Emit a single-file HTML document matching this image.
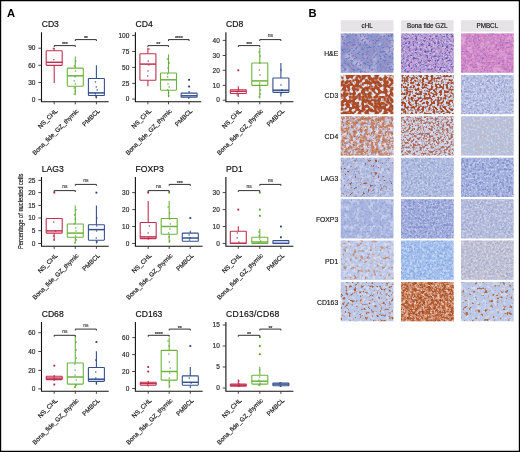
<!DOCTYPE html>
<html><head><meta charset="utf-8"><title>Figure</title>
<style>html,body{margin:0;padding:0;background:#fff;width:520px;height:452px;overflow:hidden}</style>
</head><body>
<svg width="520" height="452" viewBox="0 0 520 452" style="display:block;will-change:transform">
<rect x="0" y="0" width="520" height="452" fill="#fff"/>
<path d="M0 0H520V452H0Z M1.2 1.2V450.8H518.8V1.2Z" fill="#000" fill-rule="evenodd"/>
<text x="7.00" y="17.00" font-family='"Liberation Sans", sans-serif' font-size="11.2" font-weight="bold" fill="#000">A</text>
<text x="308.60" y="16.90" font-family='"Liberation Sans", sans-serif' font-size="11.2" font-weight="bold" fill="#000">B</text>
<text x="41.70" y="27.30" font-family='"Liberation Sans", sans-serif' font-size="8.6" fill="#111" stroke="#111" stroke-width="0.18">CD3</text>
<path d="M41.5 32.3V101.7H108.7" fill="none" stroke="#111" stroke-width="1.1"/>
<path d="M38.3 99.7H41.5" stroke="#333" stroke-width="0.9"/>
<text x="35.40" y="101.90" text-anchor="end" font-family='"Liberation Sans", sans-serif' font-size="6.5" fill="#2a2a2a" stroke="#2a2a2a" stroke-width="0.18">0</text>
<path d="M38.3 82.5H41.5" stroke="#333" stroke-width="0.9"/>
<text x="35.40" y="84.70" text-anchor="end" font-family='"Liberation Sans", sans-serif' font-size="6.5" fill="#2a2a2a" stroke="#2a2a2a" stroke-width="0.18">30</text>
<path d="M38.3 65.3H41.5" stroke="#333" stroke-width="0.9"/>
<text x="35.40" y="67.50" text-anchor="end" font-family='"Liberation Sans", sans-serif' font-size="6.5" fill="#2a2a2a" stroke="#2a2a2a" stroke-width="0.18">60</text>
<path d="M38.3 48.2H41.5" stroke="#333" stroke-width="0.9"/>
<text x="35.40" y="50.40" text-anchor="end" font-family='"Liberation Sans", sans-serif' font-size="6.5" fill="#2a2a2a" stroke="#2a2a2a" stroke-width="0.18">90</text>
<path d="M54.2 101.7V104.3" stroke="#333" stroke-width="0.9"/>
<path d="M75.3 101.7V104.3" stroke="#333" stroke-width="0.9"/>
<path d="M96.4 101.7V104.3" stroke="#333" stroke-width="0.9"/>
<text transform="translate(55.85,109.30) rotate(-45)" text-anchor="end" font-family='"Liberation Sans", sans-serif' font-size="6.3" fill="#1a1a1a" stroke="#1a1a1a" stroke-width="0.18" dy="3">NS_CHL</text>
<text transform="translate(76.95,109.30) rotate(-45)" text-anchor="end" font-family='"Liberation Sans", sans-serif' font-size="6.3" fill="#1a1a1a" stroke="#1a1a1a" stroke-width="0.18" dy="3">Bona_fide_GZ_thymic</text>
<text transform="translate(98.00,109.30) rotate(-45)" text-anchor="end" font-family='"Liberation Sans", sans-serif' font-size="6.3" fill="#1a1a1a" stroke="#1a1a1a" stroke-width="0.18" dy="3">PMBCL</text>
<g fill="none" stroke="#c2304f" stroke-width="1.1">
<path d="M54.2 47.7V50.8"/>
<path d="M54.2 65.4V82.9"/>
<rect x="46.2" y="50.8" width="16.0" height="14.6" rx="0.6"/>
<path d="M46.2 62.3H62.2" stroke-width="1.5"/>
</g>
<rect x="53.2" y="59.0" width="1.3" height="1.3" fill="#b01c3e" opacity="0.85"/>
<rect x="52.8" y="47.9" width="1.3" height="1.3" fill="#b01c3e" opacity="0.85"/>
<g fill="none" stroke="#6cb33e" stroke-width="1.1">
<path d="M75.3 56.4V68.1"/>
<path d="M75.3 86.2V95.0"/>
<rect x="67.3" y="68.1" width="16.0" height="18.1" rx="0.6"/>
<path d="M67.3 75.8H83.3" stroke-width="1.5"/>
</g>
<rect x="75.1" y="60.4" width="1.3" height="1.3" fill="#4f9a25" opacity="0.85"/>
<rect x="73.7" y="65.3" width="1.3" height="1.3" fill="#4f9a25" opacity="0.85"/>
<rect x="74.8" y="70.3" width="1.3" height="1.3" fill="#4f9a25" opacity="0.85"/>
<rect x="74.4" y="76.3" width="1.3" height="1.3" fill="#4f9a25" opacity="0.85"/>
<rect x="73.6" y="80.3" width="1.3" height="1.3" fill="#4f9a25" opacity="0.85"/>
<rect x="74.7" y="83.3" width="1.3" height="1.3" fill="#4f9a25" opacity="0.85"/>
<rect x="73.6" y="87.3" width="1.3" height="1.3" fill="#4f9a25" opacity="0.85"/>
<rect x="74.5" y="90.3" width="1.3" height="1.3" fill="#4f9a25" opacity="0.85"/>
<rect x="73.7" y="93.3" width="1.3" height="1.3" fill="#4f9a25" opacity="0.85"/>
<g fill="none" stroke="#34508e" stroke-width="1.1">
<path d="M96.4 65.2V78.5"/>
<path d="M96.4 95.5V98.6"/>
<rect x="88.4" y="78.5" width="16.0" height="17.0" rx="0.6"/>
<path d="M88.4 92.9H104.4" stroke-width="1.5"/>
</g>
<rect x="94.8" y="81.3" width="1.3" height="1.3" fill="#1f3a7a" opacity="0.85"/>
<rect x="95.6" y="86.3" width="1.3" height="1.3" fill="#1f3a7a" opacity="0.85"/>
<rect x="96.5" y="89.3" width="1.3" height="1.3" fill="#1f3a7a" opacity="0.85"/>
<rect x="94.8" y="93.3" width="1.3" height="1.3" fill="#1f3a7a" opacity="0.85"/>
<rect x="95.1" y="96.3" width="1.3" height="1.3" fill="#1f3a7a" opacity="0.85"/>
<path d="M54.2 47.0V45.6H75.3V47.0" fill="none" stroke="#1a1a1a" stroke-width="0.9"/>
<text x="64.80" y="46.20" text-anchor="middle" font-family='"Liberation Sans", sans-serif' font-size="5.5" fill="#333" stroke="#333" stroke-width="0.18" letter-spacing="-0.2">***</text>
<path d="M75.3 41.0V39.6H96.4V41.0" fill="none" stroke="#1a1a1a" stroke-width="0.9"/>
<text x="85.88" y="40.20" text-anchor="middle" font-family='"Liberation Sans", sans-serif' font-size="5.5" fill="#333" stroke="#333" stroke-width="0.18" letter-spacing="-0.2">**</text>
<text x="135.60" y="27.30" font-family='"Liberation Sans", sans-serif' font-size="8.6" fill="#111" stroke="#111" stroke-width="0.18">CD4</text>
<path d="M135.4 32.3V101.7H201.2" fill="none" stroke="#111" stroke-width="1.1"/>
<path d="M132.2 99.1H135.4" stroke="#333" stroke-width="0.9"/>
<text x="129.30" y="101.30" text-anchor="end" font-family='"Liberation Sans", sans-serif' font-size="6.5" fill="#2a2a2a" stroke="#2a2a2a" stroke-width="0.18">0</text>
<path d="M132.2 83.4H135.4" stroke="#333" stroke-width="0.9"/>
<text x="129.30" y="85.60" text-anchor="end" font-family='"Liberation Sans", sans-serif' font-size="6.5" fill="#2a2a2a" stroke="#2a2a2a" stroke-width="0.18">25</text>
<path d="M132.2 67.4H135.4" stroke="#333" stroke-width="0.9"/>
<text x="129.30" y="69.60" text-anchor="end" font-family='"Liberation Sans", sans-serif' font-size="6.5" fill="#2a2a2a" stroke="#2a2a2a" stroke-width="0.18">50</text>
<path d="M132.2 51.5H135.4" stroke="#333" stroke-width="0.9"/>
<text x="129.30" y="53.70" text-anchor="end" font-family='"Liberation Sans", sans-serif' font-size="6.5" fill="#2a2a2a" stroke="#2a2a2a" stroke-width="0.18">75</text>
<path d="M132.2 35.4H135.4" stroke="#333" stroke-width="0.9"/>
<text x="129.30" y="37.60" text-anchor="end" font-family='"Liberation Sans", sans-serif' font-size="6.5" fill="#2a2a2a" stroke="#2a2a2a" stroke-width="0.18">100</text>
<path d="M147.9 101.7V104.3" stroke="#333" stroke-width="0.9"/>
<path d="M168.5 101.7V104.3" stroke="#333" stroke-width="0.9"/>
<path d="M189.1 101.7V104.3" stroke="#333" stroke-width="0.9"/>
<text transform="translate(149.50,109.30) rotate(-45)" text-anchor="end" font-family='"Liberation Sans", sans-serif' font-size="6.3" fill="#1a1a1a" stroke="#1a1a1a" stroke-width="0.18" dy="3">NS_CHL</text>
<text transform="translate(170.10,109.30) rotate(-45)" text-anchor="end" font-family='"Liberation Sans", sans-serif' font-size="6.3" fill="#1a1a1a" stroke="#1a1a1a" stroke-width="0.18" dy="3">Bona_fide_GZ_thymic</text>
<text transform="translate(190.70,109.30) rotate(-45)" text-anchor="end" font-family='"Liberation Sans", sans-serif' font-size="6.3" fill="#1a1a1a" stroke="#1a1a1a" stroke-width="0.18" dy="3">PMBCL</text>
<g fill="none" stroke="#c2304f" stroke-width="1.1">
<path d="M147.9 47.7V53.7"/>
<path d="M147.9 80.3V86.2"/>
<rect x="139.9" y="53.7" width="16.0" height="26.6" rx="0.6"/>
<path d="M139.9 64.1H155.9" stroke-width="1.5"/>
</g>
<rect x="147.6" y="60.4" width="1.3" height="1.3" fill="#b01c3e" opacity="0.85"/>
<rect x="148.3" y="64.3" width="1.3" height="1.3" fill="#b01c3e" opacity="0.85"/>
<rect x="147.4" y="70.3" width="1.3" height="1.3" fill="#b01c3e" opacity="0.85"/>
<rect x="147.0" y="75.3" width="1.3" height="1.3" fill="#b01c3e" opacity="0.85"/>
<rect x="148.4" y="48.4" width="1.3" height="1.3" fill="#b01c3e" opacity="0.85"/>
<g fill="none" stroke="#6cb33e" stroke-width="1.1">
<path d="M168.5 54.4V73.0"/>
<path d="M168.5 90.2V97.3"/>
<rect x="160.5" y="73.0" width="16.0" height="17.2" rx="0.6"/>
<path d="M160.5 79.8H176.5" stroke-width="1.5"/>
</g>
<rect x="166.8" y="58.4" width="1.3" height="1.3" fill="#4f9a25" opacity="0.85"/>
<rect x="168.7" y="62.4" width="1.3" height="1.3" fill="#4f9a25" opacity="0.85"/>
<rect x="167.3" y="67.3" width="1.3" height="1.3" fill="#4f9a25" opacity="0.85"/>
<rect x="167.0" y="73.3" width="1.3" height="1.3" fill="#4f9a25" opacity="0.85"/>
<rect x="166.9" y="76.3" width="1.3" height="1.3" fill="#4f9a25" opacity="0.85"/>
<rect x="167.4" y="83.3" width="1.3" height="1.3" fill="#4f9a25" opacity="0.85"/>
<rect x="168.6" y="86.3" width="1.3" height="1.3" fill="#4f9a25" opacity="0.85"/>
<rect x="167.1" y="89.3" width="1.3" height="1.3" fill="#4f9a25" opacity="0.85"/>
<rect x="168.0" y="92.3" width="1.3" height="1.3" fill="#4f9a25" opacity="0.85"/>
<rect x="168.2" y="95.3" width="1.3" height="1.3" fill="#4f9a25" opacity="0.85"/>
<g fill="none" stroke="#34508e" stroke-width="1.1">
<path d="M189.1 91.0V93.1"/>
<path d="M189.1 97.3V98.0"/>
<rect x="181.1" y="93.1" width="16.0" height="4.2" rx="0.6"/>
<path d="M181.1 95.8H197.1" stroke-width="1.5"/>
</g>
<rect x="188.1" y="97.5" width="1.3" height="1.3" fill="#1f3a7a" opacity="0.85"/>
<rect x="188.2" y="78.9" width="1.8" height="1.8" fill="#1f3a7a"/>
<rect x="188.2" y="85.6" width="1.8" height="1.8" fill="#1f3a7a"/>
<path d="M147.9 47.0V45.6H168.5V47.0" fill="none" stroke="#1a1a1a" stroke-width="0.9"/>
<text x="158.20" y="46.20" text-anchor="middle" font-family='"Liberation Sans", sans-serif' font-size="5.5" fill="#333" stroke="#333" stroke-width="0.18" letter-spacing="-0.2">**</text>
<path d="M168.5 41.0V39.6H189.1V41.0" fill="none" stroke="#1a1a1a" stroke-width="0.9"/>
<text x="178.80" y="40.20" text-anchor="middle" font-family='"Liberation Sans", sans-serif' font-size="5.5" fill="#333" stroke="#333" stroke-width="0.18" letter-spacing="-0.2">****</text>
<text x="226.10" y="27.30" font-family='"Liberation Sans", sans-serif' font-size="8.6" fill="#111" stroke="#111" stroke-width="0.18">CD8</text>
<path d="M225.9 32.3V101.7H293.4" fill="none" stroke="#111" stroke-width="1.1"/>
<path d="M222.7 100.2H225.9" stroke="#333" stroke-width="0.9"/>
<text x="219.80" y="102.40" text-anchor="end" font-family='"Liberation Sans", sans-serif' font-size="6.5" fill="#2a2a2a" stroke="#2a2a2a" stroke-width="0.18">0</text>
<path d="M222.7 85.4H225.9" stroke="#333" stroke-width="0.9"/>
<text x="219.80" y="87.60" text-anchor="end" font-family='"Liberation Sans", sans-serif' font-size="6.5" fill="#2a2a2a" stroke="#2a2a2a" stroke-width="0.18">10</text>
<path d="M222.7 70.3H225.9" stroke="#333" stroke-width="0.9"/>
<text x="219.80" y="72.50" text-anchor="end" font-family='"Liberation Sans", sans-serif' font-size="6.5" fill="#2a2a2a" stroke="#2a2a2a" stroke-width="0.18">20</text>
<path d="M222.7 55.5H225.9" stroke="#333" stroke-width="0.9"/>
<text x="219.80" y="57.70" text-anchor="end" font-family='"Liberation Sans", sans-serif' font-size="6.5" fill="#2a2a2a" stroke="#2a2a2a" stroke-width="0.18">30</text>
<path d="M222.7 40.4H225.9" stroke="#333" stroke-width="0.9"/>
<text x="219.80" y="42.60" text-anchor="end" font-family='"Liberation Sans", sans-serif' font-size="6.5" fill="#2a2a2a" stroke="#2a2a2a" stroke-width="0.18">40</text>
<path d="M238.3 101.7V104.3" stroke="#333" stroke-width="0.9"/>
<path d="M259.8 101.7V104.3" stroke="#333" stroke-width="0.9"/>
<path d="M280.9 101.7V104.3" stroke="#333" stroke-width="0.9"/>
<text transform="translate(239.90,109.30) rotate(-45)" text-anchor="end" font-family='"Liberation Sans", sans-serif' font-size="6.3" fill="#1a1a1a" stroke="#1a1a1a" stroke-width="0.18" dy="3">NS_CHL</text>
<text transform="translate(261.40,109.30) rotate(-45)" text-anchor="end" font-family='"Liberation Sans", sans-serif' font-size="6.3" fill="#1a1a1a" stroke="#1a1a1a" stroke-width="0.18" dy="3">Bona_fide_GZ_thymic</text>
<text transform="translate(282.50,109.30) rotate(-45)" text-anchor="end" font-family='"Liberation Sans", sans-serif' font-size="6.3" fill="#1a1a1a" stroke="#1a1a1a" stroke-width="0.18" dy="3">PMBCL</text>
<g fill="none" stroke="#c2304f" stroke-width="1.1">
<path d="M238.3 86.2V89.8"/>
<path d="M238.3 93.5V96.9"/>
<rect x="230.3" y="89.8" width="16.0" height="3.7" rx="0.6"/>
<path d="M230.3 91.3H246.3" stroke-width="1.5"/>
</g>
<rect x="237.8" y="89.3" width="1.3" height="1.3" fill="#b01c3e" opacity="0.85"/>
<rect x="236.6" y="91.3" width="1.3" height="1.3" fill="#b01c3e" opacity="0.85"/>
<rect x="236.6" y="94.3" width="1.3" height="1.3" fill="#b01c3e" opacity="0.85"/>
<rect x="237.4" y="69.4" width="1.8" height="1.8" fill="#b01c3e"/>
<g fill="none" stroke="#6cb33e" stroke-width="1.1">
<path d="M259.8 47.7V63.0"/>
<path d="M259.8 85.4V98.6"/>
<rect x="251.8" y="63.0" width="16.0" height="22.4" rx="0.6"/>
<path d="M251.8 80.9H267.8" stroke-width="1.5"/>
</g>
<rect x="258.4" y="51.4" width="1.3" height="1.3" fill="#4f9a25" opacity="0.85"/>
<rect x="259.6" y="55.4" width="1.3" height="1.3" fill="#4f9a25" opacity="0.85"/>
<rect x="259.0" y="62.4" width="1.3" height="1.3" fill="#4f9a25" opacity="0.85"/>
<rect x="258.7" y="69.3" width="1.3" height="1.3" fill="#4f9a25" opacity="0.85"/>
<rect x="259.4" y="74.3" width="1.3" height="1.3" fill="#4f9a25" opacity="0.85"/>
<rect x="259.0" y="82.3" width="1.3" height="1.3" fill="#4f9a25" opacity="0.85"/>
<rect x="258.7" y="84.3" width="1.3" height="1.3" fill="#4f9a25" opacity="0.85"/>
<rect x="259.9" y="89.3" width="1.3" height="1.3" fill="#4f9a25" opacity="0.85"/>
<rect x="259.6" y="93.3" width="1.3" height="1.3" fill="#4f9a25" opacity="0.85"/>
<rect x="258.5" y="96.3" width="1.3" height="1.3" fill="#4f9a25" opacity="0.85"/>
<g fill="none" stroke="#34508e" stroke-width="1.1">
<path d="M280.9 63.0V78.0"/>
<path d="M280.9 92.4V96.4"/>
<rect x="272.9" y="78.0" width="16.0" height="14.4" rx="0.6"/>
<path d="M272.9 90.2H288.9" stroke-width="1.5"/>
</g>
<rect x="280.4" y="69.3" width="1.3" height="1.3" fill="#1f3a7a" opacity="0.85"/>
<rect x="280.3" y="84.3" width="1.3" height="1.3" fill="#1f3a7a" opacity="0.85"/>
<rect x="281.2" y="89.3" width="1.3" height="1.3" fill="#1f3a7a" opacity="0.85"/>
<rect x="280.8" y="92.3" width="1.3" height="1.3" fill="#1f3a7a" opacity="0.85"/>
<path d="M238.3 47.0V45.6H259.8V47.0" fill="none" stroke="#1a1a1a" stroke-width="0.9"/>
<text x="249.05" y="46.20" text-anchor="middle" font-family='"Liberation Sans", sans-serif' font-size="5.5" fill="#333" stroke="#333" stroke-width="0.18" letter-spacing="-0.2">***</text>
<path d="M259.8 41.0V39.6H280.9V41.0" fill="none" stroke="#1a1a1a" stroke-width="0.9"/>
<text x="270.35" y="37.40" text-anchor="middle" font-family='"Liberation Sans", sans-serif' font-size="5" fill="#444" stroke="#444" stroke-width="0.18">ns</text>
<text x="41.70" y="172.20" font-family='"Liberation Sans", sans-serif' font-size="8.6" fill="#111" stroke="#111" stroke-width="0.18">LAG3</text>
<path d="M41.5 177.1V246.3H108.7" fill="none" stroke="#111" stroke-width="1.1"/>
<path d="M38.3 243.5H41.5" stroke="#333" stroke-width="0.9"/>
<text x="35.40" y="245.70" text-anchor="end" font-family='"Liberation Sans", sans-serif' font-size="6.5" fill="#2a2a2a" stroke="#2a2a2a" stroke-width="0.18">0</text>
<path d="M38.3 230.7H41.5" stroke="#333" stroke-width="0.9"/>
<text x="35.40" y="232.90" text-anchor="end" font-family='"Liberation Sans", sans-serif' font-size="6.5" fill="#2a2a2a" stroke="#2a2a2a" stroke-width="0.18">5</text>
<path d="M38.3 218.0H41.5" stroke="#333" stroke-width="0.9"/>
<text x="35.40" y="220.20" text-anchor="end" font-family='"Liberation Sans", sans-serif' font-size="6.5" fill="#2a2a2a" stroke="#2a2a2a" stroke-width="0.18">10</text>
<path d="M38.3 205.4H41.5" stroke="#333" stroke-width="0.9"/>
<text x="35.40" y="207.60" text-anchor="end" font-family='"Liberation Sans", sans-serif' font-size="6.5" fill="#2a2a2a" stroke="#2a2a2a" stroke-width="0.18">15</text>
<path d="M38.3 192.6H41.5" stroke="#333" stroke-width="0.9"/>
<text x="35.40" y="194.80" text-anchor="end" font-family='"Liberation Sans", sans-serif' font-size="6.5" fill="#2a2a2a" stroke="#2a2a2a" stroke-width="0.18">20</text>
<path d="M38.3 180.4H41.5" stroke="#333" stroke-width="0.9"/>
<text x="35.40" y="182.60" text-anchor="end" font-family='"Liberation Sans", sans-serif' font-size="6.5" fill="#2a2a2a" stroke="#2a2a2a" stroke-width="0.18">25</text>
<path d="M54.2 246.3V248.9" stroke="#333" stroke-width="0.9"/>
<path d="M75.3 246.3V248.9" stroke="#333" stroke-width="0.9"/>
<path d="M96.4 246.3V248.9" stroke="#333" stroke-width="0.9"/>
<text transform="translate(55.85,253.90) rotate(-45)" text-anchor="end" font-family='"Liberation Sans", sans-serif' font-size="6.3" fill="#1a1a1a" stroke="#1a1a1a" stroke-width="0.18" dy="3">NS_CHL</text>
<text transform="translate(76.95,253.90) rotate(-45)" text-anchor="end" font-family='"Liberation Sans", sans-serif' font-size="6.3" fill="#1a1a1a" stroke="#1a1a1a" stroke-width="0.18" dy="3">Bona_fide_GZ_thymic</text>
<text transform="translate(98.00,253.90) rotate(-45)" text-anchor="end" font-family='"Liberation Sans", sans-serif' font-size="6.3" fill="#1a1a1a" stroke="#1a1a1a" stroke-width="0.18" dy="3">PMBCL</text>
<g fill="none" stroke="#c2304f" stroke-width="1.1">
<path d="M54.2 233.1V240.8"/>
<rect x="46.2" y="218.5" width="16.0" height="14.6" rx="0.6"/>
<path d="M46.2 230.9H62.2" stroke-width="1.5"/>
</g>
<rect x="53.1" y="221.3" width="1.3" height="1.3" fill="#b01c3e" opacity="0.85"/>
<rect x="54.8" y="230.3" width="1.3" height="1.3" fill="#b01c3e" opacity="0.85"/>
<rect x="52.7" y="235.3" width="1.3" height="1.3" fill="#b01c3e" opacity="0.85"/>
<rect x="53.4" y="239.3" width="1.3" height="1.3" fill="#b01c3e" opacity="0.85"/>
<rect x="53.4" y="191.7" width="1.8" height="1.8" fill="#b01c3e"/>
<g fill="none" stroke="#6cb33e" stroke-width="1.1">
<path d="M75.3 205.4V224.0"/>
<path d="M75.3 237.3V243.5"/>
<rect x="67.3" y="224.0" width="16.0" height="13.3" rx="0.6"/>
<path d="M67.3 233.1H83.3" stroke-width="1.5"/>
</g>
<rect x="75.3" y="209.3" width="1.3" height="1.3" fill="#4f9a25" opacity="0.85"/>
<rect x="73.9" y="214.3" width="1.3" height="1.3" fill="#4f9a25" opacity="0.85"/>
<rect x="74.7" y="218.3" width="1.3" height="1.3" fill="#4f9a25" opacity="0.85"/>
<rect x="73.6" y="223.3" width="1.3" height="1.3" fill="#4f9a25" opacity="0.85"/>
<rect x="75.1" y="227.3" width="1.3" height="1.3" fill="#4f9a25" opacity="0.85"/>
<rect x="75.3" y="230.3" width="1.3" height="1.3" fill="#4f9a25" opacity="0.85"/>
<rect x="74.9" y="235.3" width="1.3" height="1.3" fill="#4f9a25" opacity="0.85"/>
<rect x="75.6" y="239.3" width="1.3" height="1.3" fill="#4f9a25" opacity="0.85"/>
<rect x="74.3" y="242.3" width="1.3" height="1.3" fill="#4f9a25" opacity="0.85"/>
<g fill="none" stroke="#34508e" stroke-width="1.1">
<path d="M96.4 205.4V224.7"/>
<path d="M96.4 240.2V243.5"/>
<rect x="88.4" y="224.7" width="16.0" height="15.5" rx="0.6"/>
<path d="M88.4 229.6H104.4" stroke-width="1.5"/>
</g>
<rect x="96.2" y="217.3" width="1.3" height="1.3" fill="#1f3a7a" opacity="0.85"/>
<rect x="96.0" y="225.3" width="1.3" height="1.3" fill="#1f3a7a" opacity="0.85"/>
<rect x="95.9" y="230.3" width="1.3" height="1.3" fill="#1f3a7a" opacity="0.85"/>
<rect x="95.6" y="237.3" width="1.3" height="1.3" fill="#1f3a7a" opacity="0.85"/>
<rect x="96.6" y="241.3" width="1.3" height="1.3" fill="#1f3a7a" opacity="0.85"/>
<rect x="95.5" y="191.7" width="1.8" height="1.8" fill="#1f3a7a"/>
<path d="M54.2 192.0V190.6H75.3V192.0" fill="none" stroke="#1a1a1a" stroke-width="0.9"/>
<text x="64.80" y="188.40" text-anchor="middle" font-family='"Liberation Sans", sans-serif' font-size="5" fill="#444" stroke="#444" stroke-width="0.18">ns</text>
<path d="M75.3 185.8V184.4H96.4V185.8" fill="none" stroke="#1a1a1a" stroke-width="0.9"/>
<text x="85.88" y="182.20" text-anchor="middle" font-family='"Liberation Sans", sans-serif' font-size="5" fill="#444" stroke="#444" stroke-width="0.18">ns</text>
<text x="135.60" y="172.20" font-family='"Liberation Sans", sans-serif' font-size="8.6" fill="#111" stroke="#111" stroke-width="0.18">FOXP3</text>
<path d="M135.4 177.1V246.3H202.6" fill="none" stroke="#111" stroke-width="1.1"/>
<path d="M132.2 243.5H135.4" stroke="#333" stroke-width="0.9"/>
<text x="129.30" y="245.70" text-anchor="end" font-family='"Liberation Sans", sans-serif' font-size="6.5" fill="#2a2a2a" stroke="#2a2a2a" stroke-width="0.18">0</text>
<path d="M132.2 226.5H135.4" stroke="#333" stroke-width="0.9"/>
<text x="129.30" y="228.70" text-anchor="end" font-family='"Liberation Sans", sans-serif' font-size="6.5" fill="#2a2a2a" stroke="#2a2a2a" stroke-width="0.18">10</text>
<path d="M132.2 209.6H135.4" stroke="#333" stroke-width="0.9"/>
<text x="129.30" y="211.80" text-anchor="end" font-family='"Liberation Sans", sans-serif' font-size="6.5" fill="#2a2a2a" stroke="#2a2a2a" stroke-width="0.18">20</text>
<path d="M132.2 192.6H135.4" stroke="#333" stroke-width="0.9"/>
<text x="129.30" y="194.80" text-anchor="end" font-family='"Liberation Sans", sans-serif' font-size="6.5" fill="#2a2a2a" stroke="#2a2a2a" stroke-width="0.18">30</text>
<path d="M148.2 246.3V248.9" stroke="#333" stroke-width="0.9"/>
<path d="M169.2 246.3V248.9" stroke="#333" stroke-width="0.9"/>
<path d="M190.3 246.3V248.9" stroke="#333" stroke-width="0.9"/>
<text transform="translate(149.80,253.90) rotate(-45)" text-anchor="end" font-family='"Liberation Sans", sans-serif' font-size="6.3" fill="#1a1a1a" stroke="#1a1a1a" stroke-width="0.18" dy="3">NS_CHL</text>
<text transform="translate(170.80,253.90) rotate(-45)" text-anchor="end" font-family='"Liberation Sans", sans-serif' font-size="6.3" fill="#1a1a1a" stroke="#1a1a1a" stroke-width="0.18" dy="3">Bona_fide_GZ_thymic</text>
<text transform="translate(191.90,253.90) rotate(-45)" text-anchor="end" font-family='"Liberation Sans", sans-serif' font-size="6.3" fill="#1a1a1a" stroke="#1a1a1a" stroke-width="0.18" dy="3">PMBCL</text>
<g fill="none" stroke="#c2304f" stroke-width="1.1">
<path d="M148.2 201.0V222.5"/>
<path d="M148.2 238.6V239.7"/>
<rect x="140.2" y="222.5" width="16.0" height="16.1" rx="0.6"/>
<path d="M140.2 236.9H156.2" stroke-width="1.5"/>
</g>
<rect x="148.6" y="225.3" width="1.3" height="1.3" fill="#b01c3e" opacity="0.85"/>
<rect x="147.5" y="232.3" width="1.3" height="1.3" fill="#b01c3e" opacity="0.85"/>
<rect x="147.9" y="237.3" width="1.3" height="1.3" fill="#b01c3e" opacity="0.85"/>
<rect x="147.3" y="191.7" width="1.8" height="1.8" fill="#b01c3e"/>
<g fill="none" stroke="#6cb33e" stroke-width="1.1">
<path d="M169.2 201.0V218.5"/>
<path d="M169.2 234.2V243.0"/>
<rect x="161.2" y="218.5" width="16.0" height="15.7" rx="0.6"/>
<path d="M161.2 226.5H177.2" stroke-width="1.5"/>
</g>
<rect x="167.5" y="206.3" width="1.3" height="1.3" fill="#4f9a25" opacity="0.85"/>
<rect x="169.0" y="212.3" width="1.3" height="1.3" fill="#4f9a25" opacity="0.85"/>
<rect x="168.9" y="218.3" width="1.3" height="1.3" fill="#4f9a25" opacity="0.85"/>
<rect x="169.7" y="223.3" width="1.3" height="1.3" fill="#4f9a25" opacity="0.85"/>
<rect x="169.3" y="228.3" width="1.3" height="1.3" fill="#4f9a25" opacity="0.85"/>
<rect x="168.0" y="232.3" width="1.3" height="1.3" fill="#4f9a25" opacity="0.85"/>
<rect x="168.3" y="236.3" width="1.3" height="1.3" fill="#4f9a25" opacity="0.85"/>
<rect x="169.0" y="240.3" width="1.3" height="1.3" fill="#4f9a25" opacity="0.85"/>
<rect x="168.3" y="191.7" width="1.8" height="1.8" fill="#4f9a25"/>
<g fill="none" stroke="#34508e" stroke-width="1.1">
<path d="M190.3 230.7V233.1"/>
<rect x="182.3" y="233.1" width="16.0" height="8.2" rx="0.6"/>
<path d="M182.3 238.0H198.3" stroke-width="1.5"/>
</g>
<rect x="188.5" y="234.3" width="1.3" height="1.3" fill="#1f3a7a" opacity="0.85"/>
<rect x="189.6" y="237.3" width="1.3" height="1.3" fill="#1f3a7a" opacity="0.85"/>
<rect x="188.9" y="239.3" width="1.3" height="1.3" fill="#1f3a7a" opacity="0.85"/>
<rect x="189.4" y="217.1" width="1.8" height="1.8" fill="#1f3a7a"/>
<path d="M148.2 192.0V190.6H169.2V192.0" fill="none" stroke="#1a1a1a" stroke-width="0.9"/>
<text x="158.70" y="188.40" text-anchor="middle" font-family='"Liberation Sans", sans-serif' font-size="5" fill="#444" stroke="#444" stroke-width="0.18">ns</text>
<path d="M169.2 185.8V184.4H190.3V185.8" fill="none" stroke="#1a1a1a" stroke-width="0.9"/>
<text x="179.75" y="185.00" text-anchor="middle" font-family='"Liberation Sans", sans-serif' font-size="5.5" fill="#333" stroke="#333" stroke-width="0.18" letter-spacing="-0.2">***</text>
<text x="226.10" y="172.20" font-family='"Liberation Sans", sans-serif' font-size="8.6" fill="#111" stroke="#111" stroke-width="0.18">PD1</text>
<path d="M225.9 177.1V246.3H293.4" fill="none" stroke="#111" stroke-width="1.1"/>
<path d="M222.7 243.5H225.9" stroke="#333" stroke-width="0.9"/>
<text x="219.80" y="245.70" text-anchor="end" font-family='"Liberation Sans", sans-serif' font-size="6.5" fill="#2a2a2a" stroke="#2a2a2a" stroke-width="0.18">0</text>
<path d="M222.7 226.5H225.9" stroke="#333" stroke-width="0.9"/>
<text x="219.80" y="228.70" text-anchor="end" font-family='"Liberation Sans", sans-serif' font-size="6.5" fill="#2a2a2a" stroke="#2a2a2a" stroke-width="0.18">10</text>
<path d="M222.7 209.6H225.9" stroke="#333" stroke-width="0.9"/>
<text x="219.80" y="211.80" text-anchor="end" font-family='"Liberation Sans", sans-serif' font-size="6.5" fill="#2a2a2a" stroke="#2a2a2a" stroke-width="0.18">20</text>
<path d="M222.7 192.6H225.9" stroke="#333" stroke-width="0.9"/>
<text x="219.80" y="194.80" text-anchor="end" font-family='"Liberation Sans", sans-serif' font-size="6.5" fill="#2a2a2a" stroke="#2a2a2a" stroke-width="0.18">30</text>
<path d="M238.3 246.3V248.9" stroke="#333" stroke-width="0.9"/>
<path d="M259.8 246.3V248.9" stroke="#333" stroke-width="0.9"/>
<path d="M280.9 246.3V248.9" stroke="#333" stroke-width="0.9"/>
<text transform="translate(239.90,253.90) rotate(-45)" text-anchor="end" font-family='"Liberation Sans", sans-serif' font-size="6.3" fill="#1a1a1a" stroke="#1a1a1a" stroke-width="0.18" dy="3">NS_CHL</text>
<text transform="translate(261.40,253.90) rotate(-45)" text-anchor="end" font-family='"Liberation Sans", sans-serif' font-size="6.3" fill="#1a1a1a" stroke="#1a1a1a" stroke-width="0.18" dy="3">Bona_fide_GZ_thymic</text>
<text transform="translate(282.50,253.90) rotate(-45)" text-anchor="end" font-family='"Liberation Sans", sans-serif' font-size="6.3" fill="#1a1a1a" stroke="#1a1a1a" stroke-width="0.18" dy="3">PMBCL</text>
<g fill="none" stroke="#c2304f" stroke-width="1.1">
<path d="M238.3 226.2V231.3"/>
<rect x="230.3" y="231.3" width="16.0" height="12.2" rx="0.6"/>
<path d="M230.3 243.2H246.3" stroke-width="1.5"/>
</g>
<rect x="236.7" y="232.3" width="1.3" height="1.3" fill="#b01c3e" opacity="0.85"/>
<rect x="236.6" y="237.3" width="1.3" height="1.3" fill="#b01c3e" opacity="0.85"/>
<rect x="238.3" y="241.3" width="1.3" height="1.3" fill="#b01c3e" opacity="0.85"/>
<rect x="237.4" y="208.7" width="1.8" height="1.8" fill="#b01c3e"/>
<g fill="none" stroke="#6cb33e" stroke-width="1.1">
<path d="M259.8 228.7V237.3"/>
<rect x="251.8" y="237.3" width="16.0" height="6.2" rx="0.6"/>
<path d="M251.8 242.0H267.8" stroke-width="1.5"/>
</g>
<rect x="258.3" y="231.3" width="1.3" height="1.3" fill="#4f9a25" opacity="0.85"/>
<rect x="258.5" y="235.3" width="1.3" height="1.3" fill="#4f9a25" opacity="0.85"/>
<rect x="258.9" y="238.3" width="1.3" height="1.3" fill="#4f9a25" opacity="0.85"/>
<rect x="260.0" y="240.3" width="1.3" height="1.3" fill="#4f9a25" opacity="0.85"/>
<rect x="258.1" y="242.3" width="1.3" height="1.3" fill="#4f9a25" opacity="0.85"/>
<rect x="258.9" y="191.7" width="1.8" height="1.8" fill="#4f9a25"/>
<rect x="258.9" y="208.7" width="1.8" height="1.8" fill="#4f9a25"/>
<rect x="258.9" y="214.9" width="1.8" height="1.8" fill="#4f9a25"/>
<g fill="none" stroke="#34508e" stroke-width="1.1">
<rect x="272.9" y="240.6" width="16.0" height="2.9" rx="0.6"/>
<path d="M272.9 243.3H288.9" stroke-width="1.5"/>
</g>
<rect x="280.0" y="225.6" width="1.8" height="1.8" fill="#1f3a7a"/>
<rect x="280.0" y="236.4" width="1.8" height="1.8" fill="#1f3a7a"/>
<path d="M238.3 192.0V190.6H259.8V192.0" fill="none" stroke="#1a1a1a" stroke-width="0.9"/>
<text x="249.05" y="188.40" text-anchor="middle" font-family='"Liberation Sans", sans-serif' font-size="5" fill="#444" stroke="#444" stroke-width="0.18">ns</text>
<path d="M259.8 185.8V184.4H280.9V185.8" fill="none" stroke="#1a1a1a" stroke-width="0.9"/>
<text x="270.35" y="182.20" text-anchor="middle" font-family='"Liberation Sans", sans-serif' font-size="5" fill="#444" stroke="#444" stroke-width="0.18">ns</text>
<text x="41.70" y="317.00" font-family='"Liberation Sans", sans-serif' font-size="8.6" fill="#111" stroke="#111" stroke-width="0.18">CD68</text>
<path d="M41.5 322.1V391.2H108.7" fill="none" stroke="#111" stroke-width="1.1"/>
<path d="M38.3 388.9H41.5" stroke="#333" stroke-width="0.9"/>
<text x="35.40" y="391.10" text-anchor="end" font-family='"Liberation Sans", sans-serif' font-size="6.5" fill="#2a2a2a" stroke="#2a2a2a" stroke-width="0.18">0</text>
<path d="M38.3 370.4H41.5" stroke="#333" stroke-width="0.9"/>
<text x="35.40" y="372.60" text-anchor="end" font-family='"Liberation Sans", sans-serif' font-size="6.5" fill="#2a2a2a" stroke="#2a2a2a" stroke-width="0.18">20</text>
<path d="M38.3 351.5H41.5" stroke="#333" stroke-width="0.9"/>
<text x="35.40" y="353.70" text-anchor="end" font-family='"Liberation Sans", sans-serif' font-size="6.5" fill="#2a2a2a" stroke="#2a2a2a" stroke-width="0.18">40</text>
<path d="M38.3 332.7H41.5" stroke="#333" stroke-width="0.9"/>
<text x="35.40" y="334.90" text-anchor="end" font-family='"Liberation Sans", sans-serif' font-size="6.5" fill="#2a2a2a" stroke="#2a2a2a" stroke-width="0.18">60</text>
<path d="M54.2 391.2V393.8" stroke="#333" stroke-width="0.9"/>
<path d="M75.3 391.2V393.8" stroke="#333" stroke-width="0.9"/>
<path d="M96.4 391.2V393.8" stroke="#333" stroke-width="0.9"/>
<text transform="translate(55.85,398.80) rotate(-45)" text-anchor="end" font-family='"Liberation Sans", sans-serif' font-size="6.3" fill="#1a1a1a" stroke="#1a1a1a" stroke-width="0.18" dy="3">NS_CHL</text>
<text transform="translate(76.95,398.80) rotate(-45)" text-anchor="end" font-family='"Liberation Sans", sans-serif' font-size="6.3" fill="#1a1a1a" stroke="#1a1a1a" stroke-width="0.18" dy="3">Bona_fide_GZ_thymic</text>
<text transform="translate(98.00,398.80) rotate(-45)" text-anchor="end" font-family='"Liberation Sans", sans-serif' font-size="6.3" fill="#1a1a1a" stroke="#1a1a1a" stroke-width="0.18" dy="3">PMBCL</text>
<g fill="none" stroke="#c2304f" stroke-width="1.1">
<path d="M54.2 375.0V376.3"/>
<path d="M54.2 379.6V381.0"/>
<rect x="46.2" y="376.3" width="16.0" height="3.3" rx="0.6"/>
<path d="M46.2 378.1H62.2" stroke-width="1.5"/>
</g>
<rect x="53.5" y="376.4" width="1.3" height="1.3" fill="#b01c3e" opacity="0.85"/>
<rect x="53.7" y="378.4" width="1.3" height="1.3" fill="#b01c3e" opacity="0.85"/>
<rect x="53.4" y="364.8" width="1.8" height="1.8" fill="#b01c3e"/>
<rect x="53.4" y="383.6" width="1.8" height="1.8" fill="#b01c3e"/>
<g fill="none" stroke="#6cb33e" stroke-width="1.1">
<path d="M75.3 335.4V363.0"/>
<path d="M75.3 384.1V388.0"/>
<rect x="67.3" y="363.0" width="16.0" height="21.1" rx="0.6"/>
<path d="M67.3 377.0H83.3" stroke-width="1.5"/>
</g>
<rect x="75.6" y="341.4" width="1.3" height="1.3" fill="#4f9a25" opacity="0.85"/>
<rect x="75.5" y="349.4" width="1.3" height="1.3" fill="#4f9a25" opacity="0.85"/>
<rect x="75.6" y="357.4" width="1.3" height="1.3" fill="#4f9a25" opacity="0.85"/>
<rect x="74.2" y="363.4" width="1.3" height="1.3" fill="#4f9a25" opacity="0.85"/>
<rect x="74.5" y="369.4" width="1.3" height="1.3" fill="#4f9a25" opacity="0.85"/>
<rect x="74.4" y="374.4" width="1.3" height="1.3" fill="#4f9a25" opacity="0.85"/>
<rect x="75.6" y="379.4" width="1.3" height="1.3" fill="#4f9a25" opacity="0.85"/>
<rect x="75.8" y="384.4" width="1.3" height="1.3" fill="#4f9a25" opacity="0.85"/>
<rect x="73.9" y="386.4" width="1.3" height="1.3" fill="#4f9a25" opacity="0.85"/>
<g fill="none" stroke="#34508e" stroke-width="1.1">
<path d="M96.4 351.3V367.5"/>
<path d="M96.4 381.4V384.7"/>
<rect x="88.4" y="367.5" width="16.0" height="13.9" rx="0.6"/>
<path d="M88.4 379.2H104.4" stroke-width="1.5"/>
</g>
<rect x="95.0" y="359.4" width="1.3" height="1.3" fill="#1f3a7a" opacity="0.85"/>
<rect x="95.1" y="371.4" width="1.3" height="1.3" fill="#1f3a7a" opacity="0.85"/>
<rect x="95.1" y="377.4" width="1.3" height="1.3" fill="#1f3a7a" opacity="0.85"/>
<rect x="95.7" y="382.4" width="1.3" height="1.3" fill="#1f3a7a" opacity="0.85"/>
<rect x="95.5" y="341.1" width="1.8" height="1.8" fill="#1f3a7a"/>
<path d="M54.2 336.7V335.3H75.3V336.7" fill="none" stroke="#1a1a1a" stroke-width="0.9"/>
<text x="64.80" y="333.10" text-anchor="middle" font-family='"Liberation Sans", sans-serif' font-size="5" fill="#444" stroke="#444" stroke-width="0.18">ns</text>
<path d="M75.3 330.5V329.1H96.4V330.5" fill="none" stroke="#1a1a1a" stroke-width="0.9"/>
<text x="85.88" y="326.90" text-anchor="middle" font-family='"Liberation Sans", sans-serif' font-size="5" fill="#444" stroke="#444" stroke-width="0.18">ns</text>
<text x="135.60" y="317.00" font-family='"Liberation Sans", sans-serif' font-size="8.6" fill="#111" stroke="#111" stroke-width="0.18">CD163</text>
<path d="M135.4 322.1V391.2H202.6" fill="none" stroke="#111" stroke-width="1.1"/>
<path d="M132.2 388.5H135.4" stroke="#333" stroke-width="0.9"/>
<text x="129.30" y="390.70" text-anchor="end" font-family='"Liberation Sans", sans-serif' font-size="6.5" fill="#2a2a2a" stroke="#2a2a2a" stroke-width="0.18">0</text>
<path d="M132.2 371.5H135.4" stroke="#333" stroke-width="0.9"/>
<text x="129.30" y="373.70" text-anchor="end" font-family='"Liberation Sans", sans-serif' font-size="6.5" fill="#2a2a2a" stroke="#2a2a2a" stroke-width="0.18">20</text>
<path d="M132.2 354.6H135.4" stroke="#333" stroke-width="0.9"/>
<text x="129.30" y="356.80" text-anchor="end" font-family='"Liberation Sans", sans-serif' font-size="6.5" fill="#2a2a2a" stroke="#2a2a2a" stroke-width="0.18">40</text>
<path d="M132.2 337.6H135.4" stroke="#333" stroke-width="0.9"/>
<text x="129.30" y="339.80" text-anchor="end" font-family='"Liberation Sans", sans-serif' font-size="6.5" fill="#2a2a2a" stroke="#2a2a2a" stroke-width="0.18">60</text>
<path d="M148.2 391.2V393.8" stroke="#333" stroke-width="0.9"/>
<path d="M169.2 391.2V393.8" stroke="#333" stroke-width="0.9"/>
<path d="M190.3 391.2V393.8" stroke="#333" stroke-width="0.9"/>
<text transform="translate(149.80,398.80) rotate(-45)" text-anchor="end" font-family='"Liberation Sans", sans-serif' font-size="6.3" fill="#1a1a1a" stroke="#1a1a1a" stroke-width="0.18" dy="3">NS_CHL</text>
<text transform="translate(170.80,398.80) rotate(-45)" text-anchor="end" font-family='"Liberation Sans", sans-serif' font-size="6.3" fill="#1a1a1a" stroke="#1a1a1a" stroke-width="0.18" dy="3">Bona_fide_GZ_thymic</text>
<text transform="translate(191.90,398.80) rotate(-45)" text-anchor="end" font-family='"Liberation Sans", sans-serif' font-size="6.3" fill="#1a1a1a" stroke="#1a1a1a" stroke-width="0.18" dy="3">PMBCL</text>
<g fill="none" stroke="#c2304f" stroke-width="1.1">
<path d="M148.2 381.0V382.3"/>
<path d="M148.2 385.2V386.5"/>
<rect x="140.2" y="382.3" width="16.0" height="2.9" rx="0.6"/>
<path d="M140.2 383.6H156.2" stroke-width="1.5"/>
</g>
<rect x="147.8" y="382.4" width="1.3" height="1.3" fill="#b01c3e" opacity="0.85"/>
<rect x="147.0" y="384.4" width="1.3" height="1.3" fill="#b01c3e" opacity="0.85"/>
<rect x="147.3" y="366.1" width="1.8" height="1.8" fill="#b01c3e"/>
<rect x="147.3" y="370.6" width="1.8" height="1.8" fill="#b01c3e"/>
<g fill="none" stroke="#6cb33e" stroke-width="1.1">
<path d="M169.2 337.6V350.4"/>
<path d="M169.2 380.1V388.0"/>
<rect x="161.2" y="350.4" width="16.0" height="29.7" rx="0.6"/>
<path d="M161.2 371.5H177.2" stroke-width="1.5"/>
</g>
<rect x="167.4" y="340.4" width="1.3" height="1.3" fill="#4f9a25" opacity="0.85"/>
<rect x="168.4" y="345.4" width="1.3" height="1.3" fill="#4f9a25" opacity="0.85"/>
<rect x="168.2" y="353.4" width="1.3" height="1.3" fill="#4f9a25" opacity="0.85"/>
<rect x="168.7" y="361.4" width="1.3" height="1.3" fill="#4f9a25" opacity="0.85"/>
<rect x="169.6" y="367.4" width="1.3" height="1.3" fill="#4f9a25" opacity="0.85"/>
<rect x="169.0" y="372.4" width="1.3" height="1.3" fill="#4f9a25" opacity="0.85"/>
<rect x="168.6" y="377.4" width="1.3" height="1.3" fill="#4f9a25" opacity="0.85"/>
<rect x="168.8" y="381.4" width="1.3" height="1.3" fill="#4f9a25" opacity="0.85"/>
<rect x="169.0" y="385.4" width="1.3" height="1.3" fill="#4f9a25" opacity="0.85"/>
<g fill="none" stroke="#34508e" stroke-width="1.1">
<path d="M190.3 367.0V375.9"/>
<path d="M190.3 385.2V388.0"/>
<rect x="182.3" y="375.9" width="16.0" height="9.3" rx="0.6"/>
<path d="M182.3 382.3H198.3" stroke-width="1.5"/>
</g>
<rect x="188.6" y="377.4" width="1.3" height="1.3" fill="#1f3a7a" opacity="0.85"/>
<rect x="190.6" y="382.4" width="1.3" height="1.3" fill="#1f3a7a" opacity="0.85"/>
<rect x="189.4" y="345.1" width="1.8" height="1.8" fill="#1f3a7a"/>
<path d="M148.2 336.7V335.3H169.2V336.7" fill="none" stroke="#1a1a1a" stroke-width="0.9"/>
<text x="158.70" y="335.90" text-anchor="middle" font-family='"Liberation Sans", sans-serif' font-size="5.5" fill="#333" stroke="#333" stroke-width="0.18" letter-spacing="-0.2">****</text>
<path d="M169.2 330.5V329.1H190.3V330.5" fill="none" stroke="#1a1a1a" stroke-width="0.9"/>
<text x="179.75" y="329.70" text-anchor="middle" font-family='"Liberation Sans", sans-serif' font-size="5.5" fill="#333" stroke="#333" stroke-width="0.18" letter-spacing="-0.2">**</text>
<text x="226.10" y="317.00" font-family='"Liberation Sans", sans-serif' font-size="8.6" fill="#111" stroke="#111" stroke-width="0.18" letter-spacing="0.22">CD163/CD68</text>
<path d="M225.9 322.1V391.2H293.4" fill="none" stroke="#111" stroke-width="1.1"/>
<path d="M222.7 388.0H225.9" stroke="#333" stroke-width="0.9"/>
<text x="219.80" y="390.20" text-anchor="end" font-family='"Liberation Sans", sans-serif' font-size="6.5" fill="#2a2a2a" stroke="#2a2a2a" stroke-width="0.18">0</text>
<path d="M222.7 367.0H225.9" stroke="#333" stroke-width="0.9"/>
<text x="219.80" y="369.20" text-anchor="end" font-family='"Liberation Sans", sans-serif' font-size="6.5" fill="#2a2a2a" stroke="#2a2a2a" stroke-width="0.18">5</text>
<path d="M222.7 346.0H225.9" stroke="#333" stroke-width="0.9"/>
<text x="219.80" y="348.20" text-anchor="end" font-family='"Liberation Sans", sans-serif' font-size="6.5" fill="#2a2a2a" stroke="#2a2a2a" stroke-width="0.18">10</text>
<path d="M222.7 325.0H225.9" stroke="#333" stroke-width="0.9"/>
<text x="219.80" y="327.20" text-anchor="end" font-family='"Liberation Sans", sans-serif' font-size="6.5" fill="#2a2a2a" stroke="#2a2a2a" stroke-width="0.18">15</text>
<path d="M238.3 391.2V393.8" stroke="#333" stroke-width="0.9"/>
<path d="M259.8 391.2V393.8" stroke="#333" stroke-width="0.9"/>
<path d="M280.9 391.2V393.8" stroke="#333" stroke-width="0.9"/>
<text transform="translate(239.90,398.80) rotate(-45)" text-anchor="end" font-family='"Liberation Sans", sans-serif' font-size="6.3" fill="#1a1a1a" stroke="#1a1a1a" stroke-width="0.18" dy="3">NS_CHL</text>
<text transform="translate(261.40,398.80) rotate(-45)" text-anchor="end" font-family='"Liberation Sans", sans-serif' font-size="6.3" fill="#1a1a1a" stroke="#1a1a1a" stroke-width="0.18" dy="3">Bona_fide_GZ_thymic</text>
<text transform="translate(282.50,398.80) rotate(-45)" text-anchor="end" font-family='"Liberation Sans", sans-serif' font-size="6.3" fill="#1a1a1a" stroke="#1a1a1a" stroke-width="0.18" dy="3">PMBCL</text>
<g fill="none" stroke="#c2304f" stroke-width="1.1">
<path d="M238.3 379.6V384.1"/>
<path d="M238.3 386.3V387.0"/>
<rect x="230.3" y="384.1" width="16.0" height="2.2" rx="0.6"/>
<path d="M230.3 385.2H246.3" stroke-width="1.5"/>
</g>
<rect x="238.3" y="380.4" width="1.3" height="1.3" fill="#b01c3e" opacity="0.85"/>
<rect x="238.5" y="383.4" width="1.3" height="1.3" fill="#b01c3e" opacity="0.85"/>
<rect x="238.4" y="385.4" width="1.3" height="1.3" fill="#b01c3e" opacity="0.85"/>
<g fill="none" stroke="#6cb33e" stroke-width="1.1">
<path d="M259.8 366.8V375.2"/>
<path d="M259.8 384.1V386.3"/>
<rect x="251.8" y="375.2" width="16.0" height="8.9" rx="0.6"/>
<path d="M251.8 381.2H267.8" stroke-width="1.5"/>
</g>
<rect x="258.9" y="369.4" width="1.3" height="1.3" fill="#4f9a25" opacity="0.85"/>
<rect x="258.9" y="376.4" width="1.3" height="1.3" fill="#4f9a25" opacity="0.85"/>
<rect x="258.2" y="379.4" width="1.3" height="1.3" fill="#4f9a25" opacity="0.85"/>
<rect x="259.5" y="382.4" width="1.3" height="1.3" fill="#4f9a25" opacity="0.85"/>
<rect x="258.1" y="384.4" width="1.3" height="1.3" fill="#4f9a25" opacity="0.85"/>
<rect x="258.9" y="336.3" width="1.8" height="1.8" fill="#4f9a25"/>
<rect x="258.9" y="345.1" width="1.8" height="1.8" fill="#4f9a25"/>
<rect x="258.9" y="353.3" width="1.8" height="1.8" fill="#4f9a25"/>
<g fill="none" stroke="#34508e" stroke-width="1.1">
<path d="M280.9 381.9V383.0"/>
<path d="M280.9 385.8V387.0"/>
<rect x="272.9" y="383.0" width="16.0" height="2.8" rx="0.6"/>
<path d="M272.9 384.1H288.9" stroke-width="1.5"/>
</g>
<rect x="279.2" y="382.4" width="1.3" height="1.3" fill="#1f3a7a" opacity="0.85"/>
<rect x="279.6" y="385.4" width="1.3" height="1.3" fill="#1f3a7a" opacity="0.85"/>
<path d="M238.3 336.7V335.3H259.8V336.7" fill="none" stroke="#1a1a1a" stroke-width="0.9"/>
<text x="249.05" y="335.90" text-anchor="middle" font-family='"Liberation Sans", sans-serif' font-size="5.5" fill="#333" stroke="#333" stroke-width="0.18" letter-spacing="-0.2">**</text>
<path d="M259.8 330.5V329.1H280.9V330.5" fill="none" stroke="#1a1a1a" stroke-width="0.9"/>
<text x="270.35" y="329.70" text-anchor="middle" font-family='"Liberation Sans", sans-serif' font-size="5.5" fill="#333" stroke="#333" stroke-width="0.18" letter-spacing="-0.2">**</text>
<text transform="translate(22.7,211.3) rotate(-90)" text-anchor="middle" font-family='"Liberation Sans", sans-serif' font-size="7.1" fill="#1a1a1a" stroke="#1a1a1a" stroke-width="0.18" textLength="75.5" lengthAdjust="spacingAndGlyphs">Percentage of nucleated cells</text>
<g>
<rect x="340.8" y="20.2" width="52.6" height="11.4" fill="#e5e3e5"/>
<text x="367.10" y="28.40" text-anchor="middle" font-family='"Liberation Sans", sans-serif' font-size="6.3" fill="#222" stroke="#222" stroke-width="0.18">cHL</text>
<rect x="401.0" y="20.2" width="52.6" height="11.4" fill="#e5e3e5"/>
<text x="427.30" y="28.40" text-anchor="middle" font-family='"Liberation Sans", sans-serif' font-size="6.3" fill="#222" stroke="#222" stroke-width="0.18">Bona fide GZL</text>
<rect x="461.0" y="20.2" width="52.6" height="11.4" fill="#e5e3e5"/>
<text x="487.30" y="28.40" text-anchor="middle" font-family='"Liberation Sans", sans-serif' font-size="6.3" fill="#222" stroke="#222" stroke-width="0.18">PMBCL</text>
<text x="338.20" y="56.40" text-anchor="end" font-family='"Liberation Sans", sans-serif' font-size="6.8" fill="#222" stroke="#222" stroke-width="0.18">H&amp;E</text>
<text x="338.20" y="97.82" text-anchor="end" font-family='"Liberation Sans", sans-serif' font-size="6.8" fill="#222" stroke="#222" stroke-width="0.18">CD3</text>
<text x="338.20" y="139.24" text-anchor="end" font-family='"Liberation Sans", sans-serif' font-size="6.8" fill="#222" stroke="#222" stroke-width="0.18">CD4</text>
<text x="338.20" y="180.66" text-anchor="end" font-family='"Liberation Sans", sans-serif' font-size="6.8" fill="#222" stroke="#222" stroke-width="0.18">LAG3</text>
<text x="338.20" y="222.08" text-anchor="end" font-family='"Liberation Sans", sans-serif' font-size="6.8" fill="#222" stroke="#222" stroke-width="0.18">FOXP3</text>
<text x="338.20" y="263.50" text-anchor="end" font-family='"Liberation Sans", sans-serif' font-size="6.8" fill="#222" stroke="#222" stroke-width="0.18">PD1</text>
<text x="338.20" y="304.92" text-anchor="end" font-family='"Liberation Sans", sans-serif' font-size="6.8" fill="#222" stroke="#222" stroke-width="0.18">CD163</text>
</g>
<defs><filter id="f1" x="338.8" y="31.50" width="56.6" height="43.2" filterUnits="userSpaceOnUse" color-interpolation-filters="sRGB"><feTurbulence type="fractalNoise" baseFrequency="0.09" numOctaves="2" seed="3" result="n"/><feColorMatrix in="n" type="matrix" values="0 0 0 0 0 0 0 0 0 0 0 0 0 0 0 4.24 0 0 0 -1.910" result="m0"/><feGaussianBlur in="m0" stdDeviation="0.7" result="m"/><feFlood flood-color="#b8bee2" flood-opacity="0.8"/><feComposite in2="m" operator="in"/><feComposite in2="SourceAlpha" operator="in"/></filter><filter id="f2" x="338.8" y="31.50" width="56.6" height="43.2" filterUnits="userSpaceOnUse" color-interpolation-filters="sRGB"><feTurbulence type="fractalNoise" baseFrequency="0.45" numOctaves="2" seed="5" result="n"/><feColorMatrix in="n" type="matrix" values="0 0 0 0 0 0 0 0 0 0 0 0 0 0 0 5.08 0 0 0 -2.592" result="m0"/><feGaussianBlur in="m0" stdDeviation="0.7" result="m"/><feFlood flood-color="#c08cc0" flood-opacity="0.7"/><feComposite in2="m" operator="in"/><feComposite in2="SourceAlpha" operator="in"/></filter><filter id="f3" x="338.8" y="31.50" width="56.6" height="43.2" filterUnits="userSpaceOnUse" color-interpolation-filters="sRGB"><feTurbulence type="fractalNoise" baseFrequency="0.45" numOctaves="2" seed="7" result="n"/><feColorMatrix in="n" type="matrix" values="0 0 0 0 0 0 0 0 0 0 0 0 0 0 0 5.08 0 0 0 -2.592" result="m0"/><feGaussianBlur in="m0" stdDeviation="0.7" result="m"/><feFlood flood-color="#6470b6" flood-opacity="0.75"/><feComposite in2="m" operator="in"/><feComposite in2="SourceAlpha" operator="in"/></filter><filter id="f4" x="399.0" y="31.50" width="56.6" height="43.2" filterUnits="userSpaceOnUse" color-interpolation-filters="sRGB"><feTurbulence type="fractalNoise" baseFrequency="0.4" numOctaves="2" seed="11" result="n"/><feColorMatrix in="n" type="matrix" values="0 0 0 0 0 0 0 0 0 0 0 0 0 0 0 5.08 0 0 0 -2.257" result="m0"/><feGaussianBlur in="m0" stdDeviation="0.7" result="m"/><feFlood flood-color="#d8a2d0" flood-opacity="0.85"/><feComposite in2="m" operator="in"/><feComposite in2="SourceAlpha" operator="in"/></filter><filter id="f5" x="399.0" y="31.50" width="56.6" height="43.2" filterUnits="userSpaceOnUse" color-interpolation-filters="sRGB"><feTurbulence type="fractalNoise" baseFrequency="0.45" numOctaves="2" seed="13" result="n"/><feColorMatrix in="n" type="matrix" values="0 0 0 0 0 0 0 0 0 0 0 0 0 0 0 5.93 0 0 0 -3.107" result="m0"/><feGaussianBlur in="m0" stdDeviation="0.7" result="m"/><feFlood flood-color="#6050ae" flood-opacity="0.85"/><feComposite in2="m" operator="in"/><feComposite in2="SourceAlpha" operator="in"/></filter><filter id="f6" x="399.0" y="31.50" width="56.6" height="43.2" filterUnits="userSpaceOnUse" color-interpolation-filters="sRGB"><feTurbulence type="fractalNoise" baseFrequency="0.45" numOctaves="2" seed="17" result="n"/><feColorMatrix in="n" type="matrix" values="0 0 0 0 0 0 0 0 0 0 0 0 0 0 0 5.08 0 0 0 -2.639" result="m0"/><feGaussianBlur in="m0" stdDeviation="0.7" result="m"/><feFlood flood-color="#d2cae8" flood-opacity="0.8"/><feComposite in2="m" operator="in"/><feComposite in2="SourceAlpha" operator="in"/></filter><filter id="f7" x="459.0" y="31.50" width="56.6" height="43.2" filterUnits="userSpaceOnUse" color-interpolation-filters="sRGB"><feTurbulence type="fractalNoise" baseFrequency="0.4" numOctaves="2" seed="19" result="n"/><feColorMatrix in="n" type="matrix" values="0 0 0 0 0 0 0 0 0 0 0 0 0 0 0 5.08 0 0 0 -2.274" result="m0"/><feGaussianBlur in="m0" stdDeviation="0.7" result="m"/><feFlood flood-color="#e49cd0" flood-opacity="0.85"/><feComposite in2="m" operator="in"/><feComposite in2="SourceAlpha" operator="in"/></filter><filter id="f8" x="459.0" y="31.50" width="56.6" height="43.2" filterUnits="userSpaceOnUse" color-interpolation-filters="sRGB"><feTurbulence type="fractalNoise" baseFrequency="0.45" numOctaves="2" seed="23" result="n"/><feColorMatrix in="n" type="matrix" values="0 0 0 0 0 0 0 0 0 0 0 0 0 0 0 5.08 0 0 0 -2.691" result="m0"/><feGaussianBlur in="m0" stdDeviation="0.7" result="m"/><feFlood flood-color="#a066b8" flood-opacity="0.7"/><feComposite in2="m" operator="in"/><feComposite in2="SourceAlpha" operator="in"/></filter><filter id="f9" x="459.0" y="31.50" width="56.6" height="43.2" filterUnits="userSpaceOnUse" color-interpolation-filters="sRGB"><feTurbulence type="fractalNoise" baseFrequency="0.12" numOctaves="2" seed="29" result="n"/><feColorMatrix in="n" type="matrix" values="0 0 0 0 0 0 0 0 0 0 0 0 0 0 0 4.24 0 0 0 -2.396" result="m0"/><feGaussianBlur in="m0" stdDeviation="0.7" result="m"/><feFlood flood-color="#ecb8dc" flood-opacity="0.7"/><feComposite in2="m" operator="in"/><feComposite in2="SourceAlpha" operator="in"/></filter><filter id="f10" x="338.8" y="72.92" width="56.6" height="43.2" filterUnits="userSpaceOnUse" color-interpolation-filters="sRGB"><feTurbulence type="fractalNoise" baseFrequency="0.32" numOctaves="1" seed="31" result="n"/><feColorMatrix in="n" type="matrix" values="0 0 0 0 0 0 0 0 0 0 0 0 0 0 0 6.78 0 0 0 -2.470" result="m0"/><feGaussianBlur in="m0" stdDeviation="0.7" result="m"/><feFlood flood-color="#ac4822" flood-opacity="0.97"/><feComposite in2="m" operator="in"/><feComposite in2="SourceAlpha" operator="in"/></filter><filter id="f11" x="338.8" y="72.92" width="56.6" height="43.2" filterUnits="userSpaceOnUse" color-interpolation-filters="sRGB"><feTurbulence type="fractalNoise" baseFrequency="0.45" numOctaves="1" seed="37" result="n"/><feColorMatrix in="n" type="matrix" values="0 0 0 0 0 0 0 0 0 0 0 0 0 0 0 5.08 0 0 0 -2.747" result="m0"/><feGaussianBlur in="m0" stdDeviation="0.7" result="m"/><feFlood flood-color="#86341a" flood-opacity="0.5"/><feComposite in2="m" operator="in"/><feComposite in2="SourceAlpha" operator="in"/></filter><filter id="f12" x="399.0" y="72.92" width="56.6" height="43.2" filterUnits="userSpaceOnUse" color-interpolation-filters="sRGB"><feTurbulence type="fractalNoise" baseFrequency="0.45" numOctaves="1" seed="41" result="n"/><feColorMatrix in="n" type="matrix" values="0 0 0 0 0 0 0 0 0 0 0 0 0 0 0 6.78 0 0 0 -2.990" result="m0"/><feGaussianBlur in="m0" stdDeviation="0.7" result="m"/><feFlood flood-color="#a4431f" flood-opacity="0.95"/><feComposite in2="m" operator="in"/><feComposite in2="SourceAlpha" operator="in"/></filter><filter id="f13" x="399.0" y="72.92" width="56.6" height="43.2" filterUnits="userSpaceOnUse" color-interpolation-filters="sRGB"><feTurbulence type="fractalNoise" baseFrequency="0.45" numOctaves="1" seed="43" result="n"/><feColorMatrix in="n" type="matrix" values="0 0 0 0 0 0 0 0 0 0 0 0 0 0 0 5.08 0 0 0 -2.885" result="m0"/><feGaussianBlur in="m0" stdDeviation="0.7" result="m"/><feFlood flood-color="#7a3016" flood-opacity="0.5"/><feComposite in2="m" operator="in"/><feComposite in2="SourceAlpha" operator="in"/></filter><filter id="f14" x="459.0" y="72.92" width="56.6" height="43.2" filterUnits="userSpaceOnUse" color-interpolation-filters="sRGB"><feTurbulence type="fractalNoise" baseFrequency="0.45" numOctaves="2" seed="47" result="n"/><feColorMatrix in="n" type="matrix" values="0 0 0 0 0 0 0 0 0 0 0 0 0 0 0 5.08 0 0 0 -2.323" result="m0"/><feGaussianBlur in="m0" stdDeviation="0.7" result="m"/><feFlood flood-color="#929ccf" flood-opacity="0.8"/><feComposite in2="m" operator="in"/><feComposite in2="SourceAlpha" operator="in"/></filter><filter id="f15" x="459.0" y="72.92" width="56.6" height="43.2" filterUnits="userSpaceOnUse" color-interpolation-filters="sRGB"><feTurbulence type="fractalNoise" baseFrequency="0.45" numOctaves="2" seed="53" result="n"/><feColorMatrix in="n" type="matrix" values="0 0 0 0 0 0 0 0 0 0 0 0 0 0 0 5.08 0 0 0 -2.691" result="m0"/><feGaussianBlur in="m0" stdDeviation="0.7" result="m"/><feFlood flood-color="#dce0f2" flood-opacity="0.8"/><feComposite in2="m" operator="in"/><feComposite in2="SourceAlpha" operator="in"/></filter><filter id="f16" x="459.0" y="72.92" width="56.6" height="43.2" filterUnits="userSpaceOnUse" color-interpolation-filters="sRGB"><feTurbulence type="fractalNoise" baseFrequency="0.3" numOctaves="1" seed="59" result="n"/><feColorMatrix in="n" type="matrix" values="0 0 0 0 0 0 0 0 0 0 0 0 0 0 0 10.17 0 0 0 -7.293" result="m0"/><feGaussianBlur in="m0" stdDeviation="0.7" result="m"/><feFlood flood-color="#b0583a" flood-opacity="0.9"/><feComposite in2="m" operator="in"/><feComposite in2="SourceAlpha" operator="in"/></filter><filter id="f17" x="338.8" y="114.34" width="56.6" height="43.2" filterUnits="userSpaceOnUse" color-interpolation-filters="sRGB"><feTurbulence type="fractalNoise" baseFrequency="0.28" numOctaves="2" seed="61" result="n"/><feColorMatrix in="n" type="matrix" values="0 0 0 0 0 0 0 0 0 0 0 0 0 0 0 4.24 0 0 0 -1.556" result="m0"/><feGaussianBlur in="m0" stdDeviation="0.7" result="m"/><feFlood flood-color="#c67a56" flood-opacity="0.9"/><feComposite in2="m" operator="in"/><feComposite in2="SourceAlpha" operator="in"/></filter><filter id="f18" x="338.8" y="114.34" width="56.6" height="43.2" filterUnits="userSpaceOnUse" color-interpolation-filters="sRGB"><feTurbulence type="fractalNoise" baseFrequency="0.3" numOctaves="2" seed="67" result="n"/><feColorMatrix in="n" type="matrix" values="0 0 0 0 0 0 0 0 0 0 0 0 0 0 0 5.08 0 0 0 -2.718" result="m0"/><feGaussianBlur in="m0" stdDeviation="0.7" result="m"/><feFlood flood-color="#eeecf4" flood-opacity="0.8"/><feComposite in2="m" operator="in"/><feComposite in2="SourceAlpha" operator="in"/></filter><filter id="f19" x="338.8" y="114.34" width="56.6" height="43.2" filterUnits="userSpaceOnUse" color-interpolation-filters="sRGB"><feTurbulence type="fractalNoise" baseFrequency="0.45" numOctaves="2" seed="71" result="n"/><feColorMatrix in="n" type="matrix" values="0 0 0 0 0 0 0 0 0 0 0 0 0 0 0 5.08 0 0 0 -2.747" result="m0"/><feGaussianBlur in="m0" stdDeviation="0.7" result="m"/><feFlood flood-color="#a85a40" flood-opacity="0.7"/><feComposite in2="m" operator="in"/><feComposite in2="SourceAlpha" operator="in"/></filter><filter id="f20" x="399.0" y="114.34" width="56.6" height="43.2" filterUnits="userSpaceOnUse" color-interpolation-filters="sRGB"><feTurbulence type="fractalNoise" baseFrequency="0.45" numOctaves="2" seed="73" result="n"/><feColorMatrix in="n" type="matrix" values="0 0 0 0 0 0 0 0 0 0 0 0 0 0 0 5.08 0 0 0 -2.164" result="m0"/><feGaussianBlur in="m0" stdDeviation="0.7" result="m"/><feFlood flood-color="#a8583c" flood-opacity="0.85"/><feComposite in2="m" operator="in"/><feComposite in2="SourceAlpha" operator="in"/></filter><filter id="f21" x="399.0" y="114.34" width="56.6" height="43.2" filterUnits="userSpaceOnUse" color-interpolation-filters="sRGB"><feTurbulence type="fractalNoise" baseFrequency="0.45" numOctaves="2" seed="79" result="n"/><feColorMatrix in="n" type="matrix" values="0 0 0 0 0 0 0 0 0 0 0 0 0 0 0 5.08 0 0 0 -2.718" result="m0"/><feGaussianBlur in="m0" stdDeviation="0.7" result="m"/><feFlood flood-color="#eaecf6" flood-opacity="0.8"/><feComposite in2="m" operator="in"/><feComposite in2="SourceAlpha" operator="in"/></filter><filter id="f22" x="459.0" y="114.34" width="56.6" height="43.2" filterUnits="userSpaceOnUse" color-interpolation-filters="sRGB"><feTurbulence type="fractalNoise" baseFrequency="0.45" numOctaves="2" seed="83" result="n"/><feColorMatrix in="n" type="matrix" values="0 0 0 0 0 0 0 0 0 0 0 0 0 0 0 5.08 0 0 0 -2.747" result="m0"/><feGaussianBlur in="m0" stdDeviation="0.7" result="m"/><feFlood flood-color="#cbb0a4" flood-opacity="0.7"/><feComposite in2="m" operator="in"/><feComposite in2="SourceAlpha" operator="in"/></filter><filter id="f23" x="459.0" y="114.34" width="56.6" height="43.2" filterUnits="userSpaceOnUse" color-interpolation-filters="sRGB"><feTurbulence type="fractalNoise" baseFrequency="0.45" numOctaves="2" seed="89" result="n"/><feColorMatrix in="n" type="matrix" values="0 0 0 0 0 0 0 0 0 0 0 0 0 0 0 5.08 0 0 0 -2.547" result="m0"/><feGaussianBlur in="m0" stdDeviation="0.7" result="m"/><feFlood flood-color="#d6dcee" flood-opacity="0.7"/><feComposite in2="m" operator="in"/><feComposite in2="SourceAlpha" operator="in"/></filter><filter id="f24" x="338.8" y="155.76" width="56.6" height="43.2" filterUnits="userSpaceOnUse" color-interpolation-filters="sRGB"><feTurbulence type="fractalNoise" baseFrequency="0.4" numOctaves="2" seed="97" result="n"/><feColorMatrix in="n" type="matrix" values="0 0 0 0 0 0 0 0 0 0 0 0 0 0 0 7.63 0 0 0 -4.642" result="m0"/><feGaussianBlur in="m0" stdDeviation="0.7" result="m"/><feFlood flood-color="#a24a2a" flood-opacity="0.95"/><feComposite in2="m" operator="in"/><feComposite in2="SourceAlpha" operator="in"/></filter><filter id="f25" x="338.8" y="155.76" width="56.6" height="43.2" filterUnits="userSpaceOnUse" color-interpolation-filters="sRGB"><feTurbulence type="fractalNoise" baseFrequency="0.2" numOctaves="2" seed="101" result="n"/><feColorMatrix in="n" type="matrix" values="0 0 0 0 0 0 0 0 0 0 0 0 0 0 0 4.24 0 0 0 -2.005" result="m0"/><feGaussianBlur in="m0" stdDeviation="0.7" result="m"/><feFlood flood-color="#d0d8f0" flood-opacity="0.8"/><feComposite in2="m" operator="in"/><feComposite in2="SourceAlpha" operator="in"/></filter><filter id="f26" x="338.8" y="155.76" width="56.6" height="43.2" filterUnits="userSpaceOnUse" color-interpolation-filters="sRGB"><feTurbulence type="fractalNoise" baseFrequency="0.45" numOctaves="2" seed="102" result="n"/><feColorMatrix in="n" type="matrix" values="0 0 0 0 0 0 0 0 0 0 0 0 0 0 0 5.08 0 0 0 -2.547" result="m0"/><feGaussianBlur in="m0" stdDeviation="0.7" result="m"/><feFlood flood-color="#98a4d4" flood-opacity="0.7"/><feComposite in2="m" operator="in"/><feComposite in2="SourceAlpha" operator="in"/></filter><filter id="f27" x="399.0" y="155.76" width="56.6" height="43.2" filterUnits="userSpaceOnUse" color-interpolation-filters="sRGB"><feTurbulence type="fractalNoise" baseFrequency="0.45" numOctaves="2" seed="103" result="n"/><feColorMatrix in="n" type="matrix" values="0 0 0 0 0 0 0 0 0 0 0 0 0 0 0 5.08 0 0 0 -2.357" result="m0"/><feGaussianBlur in="m0" stdDeviation="0.7" result="m"/><feFlood flood-color="#8e9ccf" flood-opacity="0.8"/><feComposite in2="m" operator="in"/><feComposite in2="SourceAlpha" operator="in"/></filter><filter id="f28" x="399.0" y="155.76" width="56.6" height="43.2" filterUnits="userSpaceOnUse" color-interpolation-filters="sRGB"><feTurbulence type="fractalNoise" baseFrequency="0.45" numOctaves="2" seed="107" result="n"/><feColorMatrix in="n" type="matrix" values="0 0 0 0 0 0 0 0 0 0 0 0 0 0 0 5.08 0 0 0 -2.592" result="m0"/><feGaussianBlur in="m0" stdDeviation="0.7" result="m"/><feFlood flood-color="#d2d8ee" flood-opacity="0.8"/><feComposite in2="m" operator="in"/><feComposite in2="SourceAlpha" operator="in"/></filter><filter id="f29" x="459.0" y="155.76" width="56.6" height="43.2" filterUnits="userSpaceOnUse" color-interpolation-filters="sRGB"><feTurbulence type="fractalNoise" baseFrequency="0.45" numOctaves="2" seed="109" result="n"/><feColorMatrix in="n" type="matrix" values="0 0 0 0 0 0 0 0 0 0 0 0 0 0 0 5.08 0 0 0 -2.357" result="m0"/><feGaussianBlur in="m0" stdDeviation="0.7" result="m"/><feFlood flood-color="#7c8ac6" flood-opacity="0.8"/><feComposite in2="m" operator="in"/><feComposite in2="SourceAlpha" operator="in"/></filter><filter id="f30" x="459.0" y="155.76" width="56.6" height="43.2" filterUnits="userSpaceOnUse" color-interpolation-filters="sRGB"><feTurbulence type="fractalNoise" baseFrequency="0.45" numOctaves="2" seed="113" result="n"/><feColorMatrix in="n" type="matrix" values="0 0 0 0 0 0 0 0 0 0 0 0 0 0 0 5.08 0 0 0 -2.592" result="m0"/><feGaussianBlur in="m0" stdDeviation="0.7" result="m"/><feFlood flood-color="#ccd4ee" flood-opacity="0.8"/><feComposite in2="m" operator="in"/><feComposite in2="SourceAlpha" operator="in"/></filter><filter id="f31" x="338.8" y="197.18" width="56.6" height="43.2" filterUnits="userSpaceOnUse" color-interpolation-filters="sRGB"><feTurbulence type="fractalNoise" baseFrequency="0.2" numOctaves="2" seed="127" result="n"/><feColorMatrix in="n" type="matrix" values="0 0 0 0 0 0 0 0 0 0 0 0 0 0 0 4.24 0 0 0 -1.910" result="m0"/><feGaussianBlur in="m0" stdDeviation="0.7" result="m"/><feFlood flood-color="#ccd4f0" flood-opacity="0.8"/><feComposite in2="m" operator="in"/><feComposite in2="SourceAlpha" operator="in"/></filter><filter id="f32" x="338.8" y="197.18" width="56.6" height="43.2" filterUnits="userSpaceOnUse" color-interpolation-filters="sRGB"><feTurbulence type="fractalNoise" baseFrequency="0.45" numOctaves="2" seed="131" result="n"/><feColorMatrix in="n" type="matrix" values="0 0 0 0 0 0 0 0 0 0 0 0 0 0 0 5.08 0 0 0 -2.506" result="m0"/><feGaussianBlur in="m0" stdDeviation="0.7" result="m"/><feFlood flood-color="#94a2d4" flood-opacity="0.8"/><feComposite in2="m" operator="in"/><feComposite in2="SourceAlpha" operator="in"/></filter><filter id="f33" x="338.8" y="197.18" width="56.6" height="43.2" filterUnits="userSpaceOnUse" color-interpolation-filters="sRGB"><feTurbulence type="fractalNoise" baseFrequency="0.45" numOctaves="1" seed="137" result="n"/><feColorMatrix in="n" type="matrix" values="0 0 0 0 0 0 0 0 0 0 0 0 0 0 0 10.17 0 0 0 -7.599" result="m0"/><feGaussianBlur in="m0" stdDeviation="0.7" result="m"/><feFlood flood-color="#a85a3a" flood-opacity="0.8"/><feComposite in2="m" operator="in"/><feComposite in2="SourceAlpha" operator="in"/></filter><filter id="f34" x="399.0" y="197.18" width="56.6" height="43.2" filterUnits="userSpaceOnUse" color-interpolation-filters="sRGB"><feTurbulence type="fractalNoise" baseFrequency="0.45" numOctaves="2" seed="139" result="n"/><feColorMatrix in="n" type="matrix" values="0 0 0 0 0 0 0 0 0 0 0 0 0 0 0 5.08 0 0 0 -2.323" result="m0"/><feGaussianBlur in="m0" stdDeviation="0.7" result="m"/><feFlood flood-color="#7e8ccc" flood-opacity="0.8"/><feComposite in2="m" operator="in"/><feComposite in2="SourceAlpha" operator="in"/></filter><filter id="f35" x="399.0" y="197.18" width="56.6" height="43.2" filterUnits="userSpaceOnUse" color-interpolation-filters="sRGB"><feTurbulence type="fractalNoise" baseFrequency="0.45" numOctaves="2" seed="149" result="n"/><feColorMatrix in="n" type="matrix" values="0 0 0 0 0 0 0 0 0 0 0 0 0 0 0 5.08 0 0 0 -2.592" result="m0"/><feGaussianBlur in="m0" stdDeviation="0.7" result="m"/><feFlood flood-color="#c8cfec" flood-opacity="0.8"/><feComposite in2="m" operator="in"/><feComposite in2="SourceAlpha" operator="in"/></filter><filter id="f36" x="459.0" y="197.18" width="56.6" height="43.2" filterUnits="userSpaceOnUse" color-interpolation-filters="sRGB"><feTurbulence type="fractalNoise" baseFrequency="0.45" numOctaves="2" seed="151" result="n"/><feColorMatrix in="n" type="matrix" values="0 0 0 0 0 0 0 0 0 0 0 0 0 0 0 5.08 0 0 0 -2.447" result="m0"/><feGaussianBlur in="m0" stdDeviation="0.7" result="m"/><feFlood flood-color="#9aa4cf" flood-opacity="0.8"/><feComposite in2="m" operator="in"/><feComposite in2="SourceAlpha" operator="in"/></filter><filter id="f37" x="459.0" y="197.18" width="56.6" height="43.2" filterUnits="userSpaceOnUse" color-interpolation-filters="sRGB"><feTurbulence type="fractalNoise" baseFrequency="0.45" numOctaves="2" seed="157" result="n"/><feColorMatrix in="n" type="matrix" values="0 0 0 0 0 0 0 0 0 0 0 0 0 0 0 5.08 0 0 0 -2.547" result="m0"/><feGaussianBlur in="m0" stdDeviation="0.7" result="m"/><feFlood flood-color="#d4d8ea" flood-opacity="0.8"/><feComposite in2="m" operator="in"/><feComposite in2="SourceAlpha" operator="in"/></filter><filter id="f38" x="338.8" y="238.60" width="56.6" height="43.2" filterUnits="userSpaceOnUse" color-interpolation-filters="sRGB"><feTurbulence type="fractalNoise" baseFrequency="0.3" numOctaves="2" seed="163" result="n"/><feColorMatrix in="n" type="matrix" values="0 0 0 0 0 0 0 0 0 0 0 0 0 0 0 5.93 0 0 0 -3.255" result="m0"/><feGaussianBlur in="m0" stdDeviation="0.7" result="m"/><feFlood flood-color="#c08a6c" flood-opacity="0.9"/><feComposite in2="m" operator="in"/><feComposite in2="SourceAlpha" operator="in"/></filter><filter id="f39" x="338.8" y="238.60" width="56.6" height="43.2" filterUnits="userSpaceOnUse" color-interpolation-filters="sRGB"><feTurbulence type="fractalNoise" baseFrequency="0.3" numOctaves="2" seed="167" result="n"/><feColorMatrix in="n" type="matrix" values="0 0 0 0 0 0 0 0 0 0 0 0 0 0 0 4.24 0 0 0 -2.039" result="m0"/><feGaussianBlur in="m0" stdDeviation="0.7" result="m"/><feFlood flood-color="#dce2f4" flood-opacity="0.8"/><feComposite in2="m" operator="in"/><feComposite in2="SourceAlpha" operator="in"/></filter><filter id="f40" x="399.0" y="238.60" width="56.6" height="43.2" filterUnits="userSpaceOnUse" color-interpolation-filters="sRGB"><feTurbulence type="fractalNoise" baseFrequency="0.45" numOctaves="2" seed="173" result="n"/><feColorMatrix in="n" type="matrix" values="0 0 0 0 0 0 0 0 0 0 0 0 0 0 0 5.08 0 0 0 -2.357" result="m0"/><feGaussianBlur in="m0" stdDeviation="0.7" result="m"/><feFlood flood-color="#86a2dc" flood-opacity="0.8"/><feComposite in2="m" operator="in"/><feComposite in2="SourceAlpha" operator="in"/></filter><filter id="f41" x="399.0" y="238.60" width="56.6" height="43.2" filterUnits="userSpaceOnUse" color-interpolation-filters="sRGB"><feTurbulence type="fractalNoise" baseFrequency="0.4" numOctaves="2" seed="179" result="n"/><feColorMatrix in="n" type="matrix" values="0 0 0 0 0 0 0 0 0 0 0 0 0 0 0 5.08 0 0 0 -2.506" result="m0"/><feGaussianBlur in="m0" stdDeviation="0.7" result="m"/><feFlood flood-color="#c8dcf6" flood-opacity="0.8"/><feComposite in2="m" operator="in"/><feComposite in2="SourceAlpha" operator="in"/></filter><filter id="f42" x="459.0" y="238.60" width="56.6" height="43.2" filterUnits="userSpaceOnUse" color-interpolation-filters="sRGB"><feTurbulence type="fractalNoise" baseFrequency="0.45" numOctaves="2" seed="181" result="n"/><feColorMatrix in="n" type="matrix" values="0 0 0 0 0 0 0 0 0 0 0 0 0 0 0 5.08 0 0 0 -2.357" result="m0"/><feGaussianBlur in="m0" stdDeviation="0.7" result="m"/><feFlood flood-color="#a4a8c8" flood-opacity="0.8"/><feComposite in2="m" operator="in"/><feComposite in2="SourceAlpha" operator="in"/></filter><filter id="f43" x="459.0" y="238.60" width="56.6" height="43.2" filterUnits="userSpaceOnUse" color-interpolation-filters="sRGB"><feTurbulence type="fractalNoise" baseFrequency="0.45" numOctaves="2" seed="191" result="n"/><feColorMatrix in="n" type="matrix" values="0 0 0 0 0 0 0 0 0 0 0 0 0 0 0 5.08 0 0 0 -2.547" result="m0"/><feGaussianBlur in="m0" stdDeviation="0.7" result="m"/><feFlood flood-color="#dadbe4" flood-opacity="0.8"/><feComposite in2="m" operator="in"/><feComposite in2="SourceAlpha" operator="in"/></filter><filter id="f44" x="338.8" y="280.02" width="56.6" height="43.2" filterUnits="userSpaceOnUse" color-interpolation-filters="sRGB"><feTurbulence type="fractalNoise" baseFrequency="0.35" numOctaves="2" seed="193" result="n"/><feColorMatrix in="n" type="matrix" values="0 0 0 0 0 0 0 0 0 0 0 0 0 0 0 5.93 0 0 0 -3.289" result="m0"/><feGaussianBlur in="m0" stdDeviation="0.7" result="m"/><feFlood flood-color="#a8522a" flood-opacity="0.9"/><feComposite in2="m" operator="in"/><feComposite in2="SourceAlpha" operator="in"/></filter><filter id="f45" x="338.8" y="280.02" width="56.6" height="43.2" filterUnits="userSpaceOnUse" color-interpolation-filters="sRGB"><feTurbulence type="fractalNoise" baseFrequency="0.3" numOctaves="2" seed="197" result="n"/><feColorMatrix in="n" type="matrix" values="0 0 0 0 0 0 0 0 0 0 0 0 0 0 0 4.24 0 0 0 -2.137" result="m0"/><feGaussianBlur in="m0" stdDeviation="0.7" result="m"/><feFlood flood-color="#dce2f2" flood-opacity="0.8"/><feComposite in2="m" operator="in"/><feComposite in2="SourceAlpha" operator="in"/></filter><filter id="f46" x="399.0" y="280.02" width="56.6" height="43.2" filterUnits="userSpaceOnUse" color-interpolation-filters="sRGB"><feTurbulence type="fractalNoise" baseFrequency="0.35" numOctaves="2" seed="199" result="n"/><feColorMatrix in="n" type="matrix" values="0 0 0 0 0 0 0 0 0 0 0 0 0 0 0 5.08 0 0 0 -2.012" result="m0"/><feGaussianBlur in="m0" stdDeviation="0.7" result="m"/><feFlood flood-color="#b45628" flood-opacity="0.9"/><feComposite in2="m" operator="in"/><feComposite in2="SourceAlpha" operator="in"/></filter><filter id="f47" x="399.0" y="280.02" width="56.6" height="43.2" filterUnits="userSpaceOnUse" color-interpolation-filters="sRGB"><feTurbulence type="fractalNoise" baseFrequency="0.4" numOctaves="2" seed="211" result="n"/><feColorMatrix in="n" type="matrix" values="0 0 0 0 0 0 0 0 0 0 0 0 0 0 0 5.08 0 0 0 -2.747" result="m0"/><feGaussianBlur in="m0" stdDeviation="0.7" result="m"/><feFlood flood-color="#f0e2dc" flood-opacity="0.8"/><feComposite in2="m" operator="in"/><feComposite in2="SourceAlpha" operator="in"/></filter><filter id="f48" x="399.0" y="280.02" width="56.6" height="43.2" filterUnits="userSpaceOnUse" color-interpolation-filters="sRGB"><feTurbulence type="fractalNoise" baseFrequency="0.45" numOctaves="2" seed="223" result="n"/><feColorMatrix in="n" type="matrix" values="0 0 0 0 0 0 0 0 0 0 0 0 0 0 0 5.08 0 0 0 -2.747" result="m0"/><feGaussianBlur in="m0" stdDeviation="0.7" result="m"/><feFlood flood-color="#8a3e1a" flood-opacity="0.7"/><feComposite in2="m" operator="in"/><feComposite in2="SourceAlpha" operator="in"/></filter><filter id="f49" x="459.0" y="280.02" width="56.6" height="43.2" filterUnits="userSpaceOnUse" color-interpolation-filters="sRGB"><feTurbulence type="fractalNoise" baseFrequency="0.32" numOctaves="2" seed="227" result="n"/><feColorMatrix in="n" type="matrix" values="0 0 0 0 0 0 0 0 0 0 0 0 0 0 0 6.78 0 0 0 -3.915" result="m0"/><feGaussianBlur in="m0" stdDeviation="0.7" result="m"/><feFlood flood-color="#b0602a" flood-opacity="0.9"/><feComposite in2="m" operator="in"/><feComposite in2="SourceAlpha" operator="in"/></filter><filter id="f50" x="459.0" y="280.02" width="56.6" height="43.2" filterUnits="userSpaceOnUse" color-interpolation-filters="sRGB"><feTurbulence type="fractalNoise" baseFrequency="0.3" numOctaves="2" seed="229" result="n"/><feColorMatrix in="n" type="matrix" values="0 0 0 0 0 0 0 0 0 0 0 0 0 0 0 4.24 0 0 0 -2.137" result="m0"/><feGaussianBlur in="m0" stdDeviation="0.7" result="m"/><feFlood flood-color="#dce2f2" flood-opacity="0.8"/><feComposite in2="m" operator="in"/><feComposite in2="SourceAlpha" operator="in"/></filter></defs>
<rect x="340.8" y="33.50" width="52.6" height="39.2" fill="#8c97cc"/>
<rect x="340.8" y="33.50" width="52.6" height="39.2" fill="#000" filter="url(#f1)"/>
<rect x="340.8" y="33.50" width="52.6" height="39.2" fill="#000" filter="url(#f2)"/>
<rect x="340.8" y="33.50" width="52.6" height="39.2" fill="#000" filter="url(#f3)"/>
<rect x="401.0" y="33.50" width="52.6" height="39.2" fill="#a494d2"/>
<rect x="401.0" y="33.50" width="52.6" height="39.2" fill="#000" filter="url(#f4)"/>
<rect x="401.0" y="33.50" width="52.6" height="39.2" fill="#000" filter="url(#f5)"/>
<rect x="401.0" y="33.50" width="52.6" height="39.2" fill="#000" filter="url(#f6)"/>
<rect x="461.0" y="33.50" width="52.6" height="39.2" fill="#cc86c8"/>
<rect x="461.0" y="33.50" width="52.6" height="39.2" fill="#000" filter="url(#f7)"/>
<rect x="461.0" y="33.50" width="52.6" height="39.2" fill="#000" filter="url(#f8)"/>
<rect x="461.0" y="33.50" width="52.6" height="39.2" fill="#000" filter="url(#f9)"/>
<rect x="340.8" y="74.92" width="52.6" height="39.2" fill="#e2e8f6"/>
<rect x="340.8" y="74.92" width="52.6" height="39.2" fill="#000" filter="url(#f10)"/>
<rect x="340.8" y="74.92" width="52.6" height="39.2" fill="#000" filter="url(#f11)"/>
<rect x="401.0" y="74.92" width="52.6" height="39.2" fill="#d4dcf2"/>
<rect x="401.0" y="74.92" width="52.6" height="39.2" fill="#000" filter="url(#f12)"/>
<rect x="401.0" y="74.92" width="52.6" height="39.2" fill="#000" filter="url(#f13)"/>
<rect x="461.0" y="74.92" width="52.6" height="39.2" fill="#bcc4e4"/>
<rect x="461.0" y="74.92" width="52.6" height="39.2" fill="#000" filter="url(#f14)"/>
<rect x="461.0" y="74.92" width="52.6" height="39.2" fill="#000" filter="url(#f15)"/>
<rect x="461.0" y="74.92" width="52.6" height="39.2" fill="#000" filter="url(#f16)"/>
<rect x="340.8" y="116.34" width="52.6" height="39.2" fill="#c6cce8"/>
<rect x="340.8" y="116.34" width="52.6" height="39.2" fill="#000" filter="url(#f17)"/>
<rect x="340.8" y="116.34" width="52.6" height="39.2" fill="#000" filter="url(#f18)"/>
<rect x="340.8" y="116.34" width="52.6" height="39.2" fill="#000" filter="url(#f19)"/>
<rect x="401.0" y="116.34" width="52.6" height="39.2" fill="#c8d0ea"/>
<rect x="401.0" y="116.34" width="52.6" height="39.2" fill="#000" filter="url(#f20)"/>
<rect x="401.0" y="116.34" width="52.6" height="39.2" fill="#000" filter="url(#f21)"/>
<rect x="461.0" y="116.34" width="52.6" height="39.2" fill="#b6c0dc"/>
<rect x="461.0" y="116.34" width="52.6" height="39.2" fill="#000" filter="url(#f22)"/>
<rect x="461.0" y="116.34" width="52.6" height="39.2" fill="#000" filter="url(#f23)"/>
<rect x="340.8" y="157.76" width="52.6" height="39.2" fill="#b4bee2"/>
<rect x="340.8" y="157.76" width="52.6" height="39.2" fill="#000" filter="url(#f24)"/>
<rect x="340.8" y="157.76" width="52.6" height="39.2" fill="#000" filter="url(#f25)"/>
<rect x="340.8" y="157.76" width="52.6" height="39.2" fill="#000" filter="url(#f26)"/>
<rect x="401.0" y="157.76" width="52.6" height="39.2" fill="#b0bce0"/>
<rect x="401.0" y="157.76" width="52.6" height="39.2" fill="#000" filter="url(#f27)"/>
<rect x="401.0" y="157.76" width="52.6" height="39.2" fill="#000" filter="url(#f28)"/>
<rect x="461.0" y="157.76" width="52.6" height="39.2" fill="#a6b2e0"/>
<rect x="461.0" y="157.76" width="52.6" height="39.2" fill="#000" filter="url(#f29)"/>
<rect x="461.0" y="157.76" width="52.6" height="39.2" fill="#000" filter="url(#f30)"/>
<rect x="340.8" y="199.18" width="52.6" height="39.2" fill="#aab6e0"/>
<rect x="340.8" y="199.18" width="52.6" height="39.2" fill="#000" filter="url(#f31)"/>
<rect x="340.8" y="199.18" width="52.6" height="39.2" fill="#000" filter="url(#f32)"/>
<rect x="340.8" y="199.18" width="52.6" height="39.2" fill="#000" filter="url(#f33)"/>
<rect x="401.0" y="199.18" width="52.6" height="39.2" fill="#a2aedc"/>
<rect x="401.0" y="199.18" width="52.6" height="39.2" fill="#000" filter="url(#f34)"/>
<rect x="401.0" y="199.18" width="52.6" height="39.2" fill="#000" filter="url(#f35)"/>
<rect x="461.0" y="199.18" width="52.6" height="39.2" fill="#b4bcdc"/>
<rect x="461.0" y="199.18" width="52.6" height="39.2" fill="#000" filter="url(#f36)"/>
<rect x="461.0" y="199.18" width="52.6" height="39.2" fill="#000" filter="url(#f37)"/>
<rect x="340.8" y="240.60" width="52.6" height="39.2" fill="#bcc8ea"/>
<rect x="340.8" y="240.60" width="52.6" height="39.2" fill="#000" filter="url(#f38)"/>
<rect x="340.8" y="240.60" width="52.6" height="39.2" fill="#000" filter="url(#f39)"/>
<rect x="401.0" y="240.60" width="52.6" height="39.2" fill="#a4c0ee"/>
<rect x="401.0" y="240.60" width="52.6" height="39.2" fill="#000" filter="url(#f40)"/>
<rect x="401.0" y="240.60" width="52.6" height="39.2" fill="#000" filter="url(#f41)"/>
<rect x="461.0" y="240.60" width="52.6" height="39.2" fill="#c0c2d6"/>
<rect x="461.0" y="240.60" width="52.6" height="39.2" fill="#000" filter="url(#f42)"/>
<rect x="461.0" y="240.60" width="52.6" height="39.2" fill="#000" filter="url(#f43)"/>
<rect x="340.8" y="282.02" width="52.6" height="39.2" fill="#bac6e6"/>
<rect x="340.8" y="282.02" width="52.6" height="39.2" fill="#000" filter="url(#f44)"/>
<rect x="340.8" y="282.02" width="52.6" height="39.2" fill="#000" filter="url(#f45)"/>
<rect x="401.0" y="282.02" width="52.6" height="39.2" fill="#d89c80"/>
<rect x="401.0" y="282.02" width="52.6" height="39.2" fill="#000" filter="url(#f46)"/>
<rect x="401.0" y="282.02" width="52.6" height="39.2" fill="#000" filter="url(#f47)"/>
<rect x="401.0" y="282.02" width="52.6" height="39.2" fill="#000" filter="url(#f48)"/>
<rect x="461.0" y="282.02" width="52.6" height="39.2" fill="#bac6e6"/>
<rect x="461.0" y="282.02" width="52.6" height="39.2" fill="#000" filter="url(#f49)"/>
<rect x="461.0" y="282.02" width="52.6" height="39.2" fill="#000" filter="url(#f50)"/>
</svg>
</body></html>
